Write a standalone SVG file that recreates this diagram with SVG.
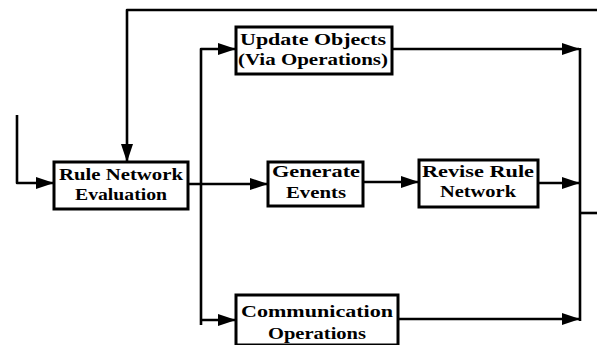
<svg xmlns="http://www.w3.org/2000/svg" width="597" height="345" viewBox="0 0 597 345">
<defs>
<style>
.box{fill:#fff;stroke:#000;stroke-width:3}
.ln{fill:none;stroke:#000;stroke-width:2.6;stroke-linejoin:round}
.t{font-family:"Liberation Serif","Times New Roman",serif;font-weight:bold;font-size:17px;fill:#000;text-anchor:middle}
</style>
<marker id="ah" markerWidth="18" markerHeight="12" refX="17" refY="6" orient="auto" markerUnits="userSpaceOnUse">
<path d="M0,0 L18,6 L0,12 Z" fill="#000"/>
</marker>
</defs>
<g id="connectors">
<path class="ln" d="M17,115 V183 H53" marker-end="url(#ah)"/>
<path class="ln" d="M597,10 H127 V161" marker-end="url(#ah)"/>
<path class="ln" d="M188,184 H267" marker-end="url(#ah)"/>
<path class="ln" d="M201,325 V49 H235" marker-end="url(#ah)"/>
<path class="ln" d="M201,320 H235" marker-end="url(#ah)"/>
<path class="ln" d="M392,49 H579" marker-end="url(#ah)"/>
<path class="ln" d="M363,182 H418" marker-end="url(#ah)"/>
<path class="ln" d="M538,183 H579" marker-end="url(#ah)"/>
<path class="ln" d="M398,319 H579" marker-end="url(#ah)"/>
<path class="ln" d="M580,48 V321"/>
<path class="ln" d="M580,213 H597"/>
</g>
<g id="rule-network-evaluation">
<rect class="box" x="54" y="162" width="134" height="47"/>
<text class="t" x="121" y="180" textLength="124" lengthAdjust="spacingAndGlyphs">Rule Network</text>
<text class="t" x="121" y="200" textLength="92" lengthAdjust="spacingAndGlyphs">Evaluation</text>
</g>
<g id="update-objects">
<rect class="box" x="236" y="27" width="156" height="47"/>
<text class="t" x="313" y="45" textLength="146" lengthAdjust="spacingAndGlyphs">Update Objects</text>
<text class="t" x="313" y="65" textLength="150" lengthAdjust="spacingAndGlyphs">(Via Operations)</text>
</g>
<g id="generate-events">
<rect class="box" x="268" y="162" width="95" height="44"/>
<text class="t" x="316" y="177" textLength="88" lengthAdjust="spacingAndGlyphs">Generate</text>
<text class="t" x="316" y="198" textLength="60" lengthAdjust="spacingAndGlyphs">Events</text>
</g>
<g id="revise-rule-network">
<rect class="box" x="419" y="160" width="119" height="47"/>
<text class="t" x="478" y="177" textLength="112" lengthAdjust="spacingAndGlyphs">Revise Rule</text>
<text class="t" x="478" y="197" textLength="76" lengthAdjust="spacingAndGlyphs">Network</text>
</g>
<g id="communication-operations">
<rect class="box" x="236" y="295" width="162" height="50"/>
<text class="t" x="317" y="317" textLength="152" lengthAdjust="spacingAndGlyphs">Communication</text>
<text class="t" x="317" y="339" textLength="98" lengthAdjust="spacingAndGlyphs">Operations</text>
</g>
</svg>
